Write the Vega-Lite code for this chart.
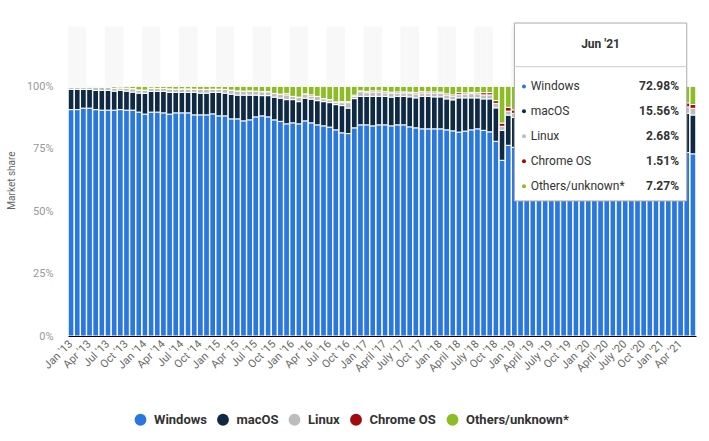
{
  "$schema": "https://vega.github.io/schema/vega-lite/v6.json",
  "width": 628,
  "height": 312,
  "autosize": {"type": "none"},
  "padding": {"left": 68, "top": 24, "right": 13, "bottom": 105},
  "config": {
    "font": "Roboto",
    "view": {"stroke": null},
    "axis": {"labelFont": "Roboto", "titleFont": "Roboto"},
    "legend": {"labelFont": "Roboto"}
  },
  "datasets": {
    "shares": [
      {"m": "Jan '13", "Windows": 0.907, "macOS": 0.081, "Linux": 0.009, "Chrome OS": 0, "Others/unknown*": 0.003},
      {"m": "Feb '13", "Windows": 0.907, "macOS": 0.081, "Linux": 0.009, "Chrome OS": 0, "Others/unknown*": 0.003},
      {"m": "Mar '13", "Windows": 0.913, "macOS": 0.075, "Linux": 0.009, "Chrome OS": 0, "Others/unknown*": 0.003},
      {"m": "Apr '13", "Windows": 0.913, "macOS": 0.075, "Linux": 0.009, "Chrome OS": 0, "Others/unknown*": 0.003},
      {"m": "May '13", "Windows": 0.907, "macOS": 0.077, "Linux": 0.013, "Chrome OS": 0, "Others/unknown*": 0.003},
      {"m": "Jun '13", "Windows": 0.905, "macOS": 0.079, "Linux": 0.013, "Chrome OS": 0, "Others/unknown*": 0.003},
      {"m": "Jul '13", "Windows": 0.905, "macOS": 0.079, "Linux": 0.013, "Chrome OS": 0, "Others/unknown*": 0.003},
      {"m": "Aug '13", "Windows": 0.905, "macOS": 0.076, "Linux": 0.012, "Chrome OS": 0, "Others/unknown*": 0.007},
      {"m": "Sep '13", "Windows": 0.907, "macOS": 0.077, "Linux": 0.010, "Chrome OS": 0, "Others/unknown*": 0.006},
      {"m": "Oct '13", "Windows": 0.905, "macOS": 0.076, "Linux": 0.012, "Chrome OS": 0, "Others/unknown*": 0.007},
      {"m": "Nov '13", "Windows": 0.905, "macOS": 0.072, "Linux": 0.014, "Chrome OS": 0, "Others/unknown*": 0.009},
      {"m": "Dec '13", "Windows": 0.897, "macOS": 0.076, "Linux": 0.013, "Chrome OS": 0, "Others/unknown*": 0.014},
      {"m": "Jan '14", "Windows": 0.889, "macOS": 0.083, "Linux": 0.013, "Chrome OS": 0, "Others/unknown*": 0.015},
      {"m": "Feb '14", "Windows": 0.897, "macOS": 0.083, "Linux": 0.013, "Chrome OS": 0, "Others/unknown*": 0.007},
      {"m": "Mar '14", "Windows": 0.897, "macOS": 0.083, "Linux": 0.012, "Chrome OS": 0, "Others/unknown*": 0.008},
      {"m": "Apr '14", "Windows": 0.894, "macOS": 0.086, "Linux": 0.012, "Chrome OS": 0, "Others/unknown*": 0.008},
      {"m": "May '14", "Windows": 0.889, "macOS": 0.087, "Linux": 0.014, "Chrome OS": 0, "Others/unknown*": 0.010},
      {"m": "Jun '14", "Windows": 0.894, "macOS": 0.082, "Linux": 0.013, "Chrome OS": 0, "Others/unknown*": 0.011},
      {"m": "Jul '14", "Windows": 0.894, "macOS": 0.082, "Linux": 0.014, "Chrome OS": 0, "Others/unknown*": 0.010},
      {"m": "Aug '14", "Windows": 0.894, "macOS": 0.082, "Linux": 0.014, "Chrome OS": 0, "Others/unknown*": 0.010},
      {"m": "Sep '14", "Windows": 0.886, "macOS": 0.090, "Linux": 0.013, "Chrome OS": 0, "Others/unknown*": 0.011},
      {"m": "Oct '14", "Windows": 0.886, "macOS": 0.087, "Linux": 0.015, "Chrome OS": 0, "Others/unknown*": 0.012},
      {"m": "Nov '14", "Windows": 0.886, "macOS": 0.087, "Linux": 0.015, "Chrome OS": 0, "Others/unknown*": 0.012},
      {"m": "Dec '14", "Windows": 0.890, "macOS": 0.086, "Linux": 0.013, "Chrome OS": 0, "Others/unknown*": 0.011},
      {"m": "Jan '15", "Windows": 0.882, "macOS": 0.094, "Linux": 0.013, "Chrome OS": 0, "Others/unknown*": 0.011},
      {"m": "Feb '15", "Windows": 0.882, "macOS": 0.091, "Linux": 0.015, "Chrome OS": 0, "Others/unknown*": 0.012},
      {"m": "Mar '15", "Windows": 0.870, "macOS": 0.099, "Linux": 0.016, "Chrome OS": 0, "Others/unknown*": 0.015},
      {"m": "Apr '15", "Windows": 0.870, "macOS": 0.095, "Linux": 0.017, "Chrome OS": 0, "Others/unknown*": 0.018},
      {"m": "May '15", "Windows": 0.862, "macOS": 0.103, "Linux": 0.016, "Chrome OS": 0, "Others/unknown*": 0.019},
      {"m": "Jun '15", "Windows": 0.866, "macOS": 0.099, "Linux": 0.017, "Chrome OS": 0, "Others/unknown*": 0.018},
      {"m": "Jul '15", "Windows": 0.878, "macOS": 0.087, "Linux": 0.016, "Chrome OS": 0, "Others/unknown*": 0.019},
      {"m": "Aug '15", "Windows": 0.882, "macOS": 0.081, "Linux": 0.016, "Chrome OS": 0, "Others/unknown*": 0.021},
      {"m": "Sep '15", "Windows": 0.878, "macOS": 0.085, "Linux": 0.016, "Chrome OS": 0, "Others/unknown*": 0.021},
      {"m": "Oct '15", "Windows": 0.866, "macOS": 0.091, "Linux": 0.015, "Chrome OS": 0, "Others/unknown*": 0.028},
      {"m": "Nov '15", "Windows": 0.860, "macOS": 0.093, "Linux": 0.016, "Chrome OS": 0, "Others/unknown*": 0.031},
      {"m": "Dec '15", "Windows": 0.850, "macOS": 0.097, "Linux": 0.019, "Chrome OS": 0.005, "Others/unknown*": 0.029},
      {"m": "Jan '16", "Windows": 0.854, "macOS": 0.093, "Linux": 0.013, "Chrome OS": 0, "Others/unknown*": 0.040},
      {"m": "Feb '16", "Windows": 0.850, "macOS": 0.089, "Linux": 0.018, "Chrome OS": 0, "Others/unknown*": 0.043},
      {"m": "Mar '16", "Windows": 0.862, "macOS": 0.091, "Linux": 0.017, "Chrome OS": 0, "Others/unknown*": 0.030},
      {"m": "Apr '16", "Windows": 0.854, "macOS": 0.095, "Linux": 0.012, "Chrome OS": 0.005, "Others/unknown*": 0.034},
      {"m": "May '16", "Windows": 0.846, "macOS": 0.097, "Linux": 0.017, "Chrome OS": 0, "Others/unknown*": 0.040},
      {"m": "Jun '16", "Windows": 0.842, "macOS": 0.097, "Linux": 0.012, "Chrome OS": 0, "Others/unknown*": 0.049},
      {"m": "Jul '16", "Windows": 0.837, "macOS": 0.098, "Linux": 0.012, "Chrome OS": 0, "Others/unknown*": 0.053},
      {"m": "Aug '16", "Windows": 0.826, "macOS": 0.101, "Linux": 0.011, "Chrome OS": 0, "Others/unknown*": 0.062},
      {"m": "Sep '16", "Windows": 0.814, "macOS": 0.109, "Linux": 0.012, "Chrome OS": 0.004, "Others/unknown*": 0.061},
      {"m": "Oct '16", "Windows": 0.811, "macOS": 0.102, "Linux": 0.022, "Chrome OS": 0.004, "Others/unknown*": 0.061},
      {"m": "Nov '16", "Windows": 0.834, "macOS": 0.117, "Linux": 0.009, "Chrome OS": 0.005, "Others/unknown*": 0.035},
      {"m": "Dec '16", "Windows": 0.846, "macOS": 0.114, "Linux": 0.019, "Chrome OS": 0.003, "Others/unknown*": 0.018},
      {"m": "Jan '17", "Windows": 0.846, "macOS": 0.114, "Linux": 0.015, "Chrome OS": 0.005, "Others/unknown*": 0.020},
      {"m": "Feb '17", "Windows": 0.842, "macOS": 0.118, "Linux": 0.017, "Chrome OS": 0.005, "Others/unknown*": 0.018},
      {"m": "Mar '17", "Windows": 0.846, "macOS": 0.114, "Linux": 0.017, "Chrome OS": 0.005, "Others/unknown*": 0.018},
      {"m": "April '17", "Windows": 0.846, "macOS": 0.114, "Linux": 0.014, "Chrome OS": 0.005, "Others/unknown*": 0.021},
      {"m": "May '17", "Windows": 0.842, "macOS": 0.115, "Linux": 0.016, "Chrome OS": 0.004, "Others/unknown*": 0.023},
      {"m": "Jun '17", "Windows": 0.846, "macOS": 0.114, "Linux": 0.013, "Chrome OS": 0.005, "Others/unknown*": 0.022},
      {"m": "July '17", "Windows": 0.846, "macOS": 0.114, "Linux": 0.014, "Chrome OS": 0.004, "Others/unknown*": 0.022},
      {"m": "Aug '17", "Windows": 0.838, "macOS": 0.120, "Linux": 0.015, "Chrome OS": 0.004, "Others/unknown*": 0.023},
      {"m": "Sep '17", "Windows": 0.834, "macOS": 0.120, "Linux": 0.016, "Chrome OS": 0.005, "Others/unknown*": 0.025},
      {"m": "Oct '17", "Windows": 0.830, "macOS": 0.130, "Linux": 0.014, "Chrome OS": 0.005, "Others/unknown*": 0.021},
      {"m": "Nov '17", "Windows": 0.830, "macOS": 0.130, "Linux": 0.013, "Chrome OS": 0.005, "Others/unknown*": 0.022},
      {"m": "Dec '17", "Windows": 0.830, "macOS": 0.128, "Linux": 0.015, "Chrome OS": 0.005, "Others/unknown*": 0.022},
      {"m": "Jan '18", "Windows": 0.830, "macOS": 0.128, "Linux": 0.015, "Chrome OS": 0.004, "Others/unknown*": 0.023},
      {"m": "Feb '18", "Windows": 0.826, "macOS": 0.124, "Linux": 0.015, "Chrome OS": 0.005, "Others/unknown*": 0.030},
      {"m": "Mar '18", "Windows": 0.822, "macOS": 0.124, "Linux": 0.015, "Chrome OS": 0.005, "Others/unknown*": 0.034},
      {"m": "April '18", "Windows": 0.817, "macOS": 0.137, "Linux": 0.013, "Chrome OS": 0.008, "Others/unknown*": 0.025},
      {"m": "May '18", "Windows": 0.821, "macOS": 0.133, "Linux": 0.015, "Chrome OS": 0.005, "Others/unknown*": 0.026},
      {"m": "Jun '18", "Windows": 0.826, "macOS": 0.128, "Linux": 0.017, "Chrome OS": 0.005, "Others/unknown*": 0.024},
      {"m": "July '18", "Windows": 0.830, "macOS": 0.124, "Linux": 0.016, "Chrome OS": 0.005, "Others/unknown*": 0.025},
      {"m": "Aug '18", "Windows": 0.824, "macOS": 0.126, "Linux": 0.016, "Chrome OS": 0.009, "Others/unknown*": 0.025},
      {"m": "Sep '18", "Windows": 0.818, "macOS": 0.132, "Linux": 0.016, "Chrome OS": 0.009, "Others/unknown*": 0.025},
      {"m": "Oct '18", "Windows": 0.780, "macOS": 0.134, "Linux": 0.018, "Chrome OS": 0.011, "Others/unknown*": 0.057},
      {"m": "Nov '18", "Windows": 0.704, "macOS": 0.120, "Linux": 0.016, "Chrome OS": 0.013, "Others/unknown*": 0.147},
      {"m": "Dec '18", "Windows": 0.764, "macOS": 0.121, "Linux": 0.016, "Chrome OS": 0.015, "Others/unknown*": 0.084},
      {"m": "Jan '19", "Windows": 0.756, "macOS": 0.120, "Linux": 0.016, "Chrome OS": 0.014, "Others/unknown*": 0.094},
      {"m": "Feb '19", "Windows": 0.759, "macOS": 0.124, "Linux": 0.016, "Chrome OS": 0.014, "Others/unknown*": 0.087},
      {"m": "Mar '19", "Windows": 0.765, "macOS": 0.127, "Linux": 0.016, "Chrome OS": 0.013, "Others/unknown*": 0.079},
      {"m": "April '19", "Windows": 0.778, "macOS": 0.132, "Linux": 0.017, "Chrome OS": 0.012, "Others/unknown*": 0.061},
      {"m": "May '19", "Windows": 0.784, "macOS": 0.135, "Linux": 0.017, "Chrome OS": 0.011, "Others/unknown*": 0.053},
      {"m": "Jun '19", "Windows": 0.788, "macOS": 0.137, "Linux": 0.018, "Chrome OS": 0.010, "Others/unknown*": 0.047},
      {"m": "July '19", "Windows": 0.789, "macOS": 0.136, "Linux": 0.018, "Chrome OS": 0.010, "Others/unknown*": 0.047},
      {"m": "Aug '19", "Windows": 0.782, "macOS": 0.140, "Linux": 0.018, "Chrome OS": 0.011, "Others/unknown*": 0.049},
      {"m": "Sep '19", "Windows": 0.777, "macOS": 0.145, "Linux": 0.017, "Chrome OS": 0.012, "Others/unknown*": 0.049},
      {"m": "Oct '19", "Windows": 0.773, "macOS": 0.149, "Linux": 0.017, "Chrome OS": 0.013, "Others/unknown*": 0.048},
      {"m": "Nov '19", "Windows": 0.776, "macOS": 0.155, "Linux": 0.017, "Chrome OS": 0.013, "Others/unknown*": 0.039},
      {"m": "Dec '19", "Windows": 0.777, "macOS": 0.163, "Linux": 0.018, "Chrome OS": 0.013, "Others/unknown*": 0.029},
      {"m": "Jan '20", "Windows": 0.777, "macOS": 0.170, "Linux": 0.018, "Chrome OS": 0.014, "Others/unknown*": 0.021},
      {"m": "Feb '20", "Windows": 0.775, "macOS": 0.172, "Linux": 0.018, "Chrome OS": 0.015, "Others/unknown*": 0.020},
      {"m": "Mar '20", "Windows": 0.777, "macOS": 0.169, "Linux": 0.018, "Chrome OS": 0.016, "Others/unknown*": 0.020},
      {"m": "April '20", "Windows": 0.769, "macOS": 0.174, "Linux": 0.019, "Chrome OS": 0.018, "Others/unknown*": 0.020},
      {"m": "May '20", "Windows": 0.768, "macOS": 0.175, "Linux": 0.019, "Chrome OS": 0.018, "Others/unknown*": 0.020},
      {"m": "Jun '20", "Windows": 0.770, "macOS": 0.173, "Linux": 0.019, "Chrome OS": 0.017, "Others/unknown*": 0.021},
      {"m": "July '20", "Windows": 0.770, "macOS": 0.172, "Linux": 0.019, "Chrome OS": 0.016, "Others/unknown*": 0.023},
      {"m": "Aug '20", "Windows": 0.766, "macOS": 0.174, "Linux": 0.019, "Chrome OS": 0.016, "Others/unknown*": 0.025},
      {"m": "Sep '20", "Windows": 0.761, "macOS": 0.172, "Linux": 0.019, "Chrome OS": 0.019, "Others/unknown*": 0.029},
      {"m": "Oct '20", "Windows": 0.758, "macOS": 0.169, "Linux": 0.020, "Chrome OS": 0.021, "Others/unknown*": 0.032},
      {"m": "Nov '20", "Windows": 0.755, "macOS": 0.166, "Linux": 0.020, "Chrome OS": 0.022, "Others/unknown*": 0.037},
      {"m": "Dec '20", "Windows": 0.763, "macOS": 0.161, "Linux": 0.019, "Chrome OS": 0.018, "Others/unknown*": 0.039},
      {"m": "Jan '21", "Windows": 0.766, "macOS": 0.159, "Linux": 0.020, "Chrome OS": 0.018, "Others/unknown*": 0.037},
      {"m": "Feb '21", "Windows": 0.753, "macOS": 0.162, "Linux": 0.021, "Chrome OS": 0.019, "Others/unknown*": 0.045},
      {"m": "Mar '21", "Windows": 0.748, "macOS": 0.161, "Linux": 0.023, "Chrome OS": 0.018, "Others/unknown*": 0.050},
      {"m": "Apr '21", "Windows": 0.740, "macOS": 0.158, "Linux": 0.025, "Chrome OS": 0.017, "Others/unknown*": 0.060},
      {"m": "May '21", "Windows": 0.735, "macOS": 0.157, "Linux": 0.026, "Chrome OS": 0.016, "Others/unknown*": 0.066},
      {"m": "Jun '21", "Windows": 0.7298, "macOS": 0.1556, "Linux": 0.0268, "Chrome OS": 0.0151, "Others/unknown*": 0.0727}
    ]
  },
  "layer": [
    {
      "data": {"name": "shares"},
      "transform": [
        {"window": [{"op": "row_number", "as": "i"}]}
      ],
      "mark": {"type": "bar", "color": "#f8f8f8", "width": {"band": 1.08}},
      "encoding": {
        "x": {"field": "m", "type": "nominal", "sort": null},
        "y": {"datum": 1.24},
        "y2": {"datum": 0},
        "opacity": {
          "condition": {"test": "floor((datum.i - 1) / 3) % 2 == 0", "value": 1},
          "value": 0
        }
      }
    },
    {
      "data": {"name": "shares"},
      "transform": [
        {"fold": ["Windows", "macOS", "Linux", "Chrome OS", "Others/unknown*"], "as": ["os", "share"]},
        {"window": [{"op": "row_number", "as": "k"}], "groupby": ["m"]}
      ],
      "mark": {"type": "bar", "stroke": "white", "strokeWidth": 1},
      "encoding": {
        "x": {
          "field": "m",
          "type": "nominal",
          "sort": null,
          "scale": {"paddingInner": 0.075, "paddingOuter": 0.0375},
          "axis": {
            "title": null,
            "values": ["Jan '13", "Apr '13", "Jul '13", "Oct '13", "Jan '14", "Apr '14", "Jul '14", "Oct '14", "Jan '15", "Apr '15", "Jul '15", "Oct '15", "Jan '16", "Apr '16", "Jul '16", "Oct '16", "Jan '17", "April '17", "July '17", "Oct '17", "Jan '18", "April '18", "July '18", "Oct '18", "Jan '19", "April '19", "July '19", "Oct '19", "Jan '20", "April '20", "July '20", "Oct '20", "Jan '21", "Apr '21"],
            "labelAngle": -45,
            "labelFontSize": 11,
            "labelColor": "#666666",
            "labelPadding": 6,
            "ticks": false,
            "domainColor": "#000000",
            "grid": false,
            "zindex": 1
          }
        },
        "y": {
          "field": "share",
          "type": "quantitative",
          "stack": "zero",
          "scale": {"domain": [0, 1.25], "nice": false},
          "axis": {
            "title": "Market share",
            "titleFontSize": 10,
            "titleFontWeight": "normal",
            "titleColor": "#666666",
            "titlePadding": 10,
            "values": [0, 0.25, 0.5, 0.75, 1, 1.25],
            "labelExpr": "datum.value > 1.01 ? '' : format(datum.value, '.0%')",
            "labelFontSize": 11,
            "labelColor": "#999999",
            "labelPadding": 15,
            "ticks": false,
            "domain": false,
            "gridColor": "#cccccc",
            "gridDash": [1, 2]
          }
        },
        "order": {"field": "k", "type": "quantitative", "sort": "ascending"},
        "color": {
          "field": "os",
          "type": "nominal",
          "scale": {
            "domain": ["Windows", "macOS", "Linux", "Chrome OS", "Others/unknown*"],
            "range": ["#2a77dd", "#0f2943", "#bdbdbd", "#a30a0e", "#8cbd22"]
          },
          "legend": {
            "title": null,
            "orient": "none",
            "legendX": 66,
            "legendY": 389,
            "direction": "horizontal",
            "symbolType": "circle",
            "symbolSize": 140,
            "symbolStrokeWidth": 0,
            "labelFontSize": 13,
            "labelFontWeight": "bold",
            "labelColor": "#333333",
            "labelOffset": 7,
            "columnPadding": 9.5
          }
        }
      }
    },
    {
      "data": {"name": "shares"},
      "transform": [
        {"filter": "datum.m == \"Jun '21\""},
        {"fold": ["Windows", "macOS", "Linux", "Chrome OS", "Others/unknown*"], "as": ["os", "share"]}
      ],
      "layer": [
        {
          "transform": [{"filter": "datum.os == 'Windows'"}],
          "mark": {"type": "rect", "fill": "white", "stroke": "#aaaaaa", "strokeWidth": 1},
          "encoding": {
            "x": {"datum": "Jan '19"},
            "x2": {"datum": "May '21"},
            "y": {"datum": 1.254},
            "y2": {"datum": 0.541}
          }
        },
        {
          "transform": [{"filter": "datum.os == 'Windows'"}],
          "mark": {"type": "rule", "color": "#cccccc", "strokeWidth": 1},
          "encoding": {
            "x": {"datum": "Jan '19"},
            "x2": {"datum": "May '21"},
            "y": {"datum": 1.079}
          }
        },
        {
          "transform": [{"filter": "datum.os == 'Windows'"}],
          "mark": {"type": "text", "fontSize": 12, "fontWeight": "bold", "color": "#333333", "align": "center", "baseline": "middle"},
          "encoding": {
            "x": {"datum": "Mar '20"},
            "y": {"datum": 1.17},
            "text": {"field": "m"}
          }
        },
        {
          "transform": [{"filter": "datum.os == 'Windows'"}],
          "encoding": {"y": {"datum": 1.0}},
          "layer": [
            {"mark": {"type": "point", "filled": true, "size": 16, "opacity": 1, "xOffset": -2.7}, "encoding": {"x": {"datum": "Mar '19"}, "color": {"field": "os", "type": "nominal"}}},
            {"mark": {"type": "text", "fontSize": 12, "color": "#333333", "align": "left", "baseline": "middle", "dx": 4}, "encoding": {"x": {"datum": "Mar '19"}, "text": {"field": "os"}}},
            {"mark": {"type": "text", "fontSize": 12, "fontWeight": "bold", "color": "#333333", "align": "right", "baseline": "middle", "dx": -1.6}, "encoding": {"x": {"datum": "Apr '21"}, "text": {"field": "share", "format": ".2%"}}}
          ]
        },
        {
          "transform": [{"filter": "datum.os == 'macOS'"}],
          "encoding": {"y": {"datum": 0.9}},
          "layer": [
            {"mark": {"type": "point", "filled": true, "size": 16, "opacity": 1, "xOffset": -2.7}, "encoding": {"x": {"datum": "Mar '19"}, "color": {"field": "os", "type": "nominal"}}},
            {"mark": {"type": "text", "fontSize": 12, "color": "#333333", "align": "left", "baseline": "middle", "dx": 4}, "encoding": {"x": {"datum": "Mar '19"}, "text": {"field": "os"}}},
            {"mark": {"type": "text", "fontSize": 12, "fontWeight": "bold", "color": "#333333", "align": "right", "baseline": "middle", "dx": -1.6}, "encoding": {"x": {"datum": "Apr '21"}, "text": {"field": "share", "format": ".2%"}}}
          ]
        },
        {
          "transform": [{"filter": "datum.os == 'Linux'"}],
          "encoding": {"y": {"datum": 0.8}},
          "layer": [
            {"mark": {"type": "point", "filled": true, "size": 16, "opacity": 1, "xOffset": -2.7}, "encoding": {"x": {"datum": "Mar '19"}, "color": {"field": "os", "type": "nominal"}}},
            {"mark": {"type": "text", "fontSize": 12, "color": "#333333", "align": "left", "baseline": "middle", "dx": 4}, "encoding": {"x": {"datum": "Mar '19"}, "text": {"field": "os"}}},
            {"mark": {"type": "text", "fontSize": 12, "fontWeight": "bold", "color": "#333333", "align": "right", "baseline": "middle", "dx": -1.6}, "encoding": {"x": {"datum": "Apr '21"}, "text": {"field": "share", "format": ".2%"}}}
          ]
        },
        {
          "transform": [{"filter": "datum.os == 'Chrome OS'"}],
          "encoding": {"y": {"datum": 0.7}},
          "layer": [
            {"mark": {"type": "point", "filled": true, "size": 16, "opacity": 1, "xOffset": -2.7}, "encoding": {"x": {"datum": "Mar '19"}, "color": {"field": "os", "type": "nominal"}}},
            {"mark": {"type": "text", "fontSize": 12, "color": "#333333", "align": "left", "baseline": "middle", "dx": 4}, "encoding": {"x": {"datum": "Mar '19"}, "text": {"field": "os"}}},
            {"mark": {"type": "text", "fontSize": 12, "fontWeight": "bold", "color": "#333333", "align": "right", "baseline": "middle", "dx": -1.6}, "encoding": {"x": {"datum": "Apr '21"}, "text": {"field": "share", "format": ".2%"}}}
          ]
        },
        {
          "transform": [{"filter": "datum.os == 'Others/unknown*'"}],
          "encoding": {"y": {"datum": 0.6}},
          "layer": [
            {"mark": {"type": "point", "filled": true, "size": 16, "opacity": 1, "xOffset": -2.7}, "encoding": {"x": {"datum": "Mar '19"}, "color": {"field": "os", "type": "nominal"}}},
            {"mark": {"type": "text", "fontSize": 12, "color": "#333333", "align": "left", "baseline": "middle", "dx": 4}, "encoding": {"x": {"datum": "Mar '19"}, "text": {"field": "os"}}},
            {"mark": {"type": "text", "fontSize": 12, "fontWeight": "bold", "color": "#333333", "align": "right", "baseline": "middle", "dx": -1.6}, "encoding": {"x": {"datum": "Apr '21"}, "text": {"field": "share", "format": ".2%"}}}
          ]
        }
      ]
    }
  ]
}
